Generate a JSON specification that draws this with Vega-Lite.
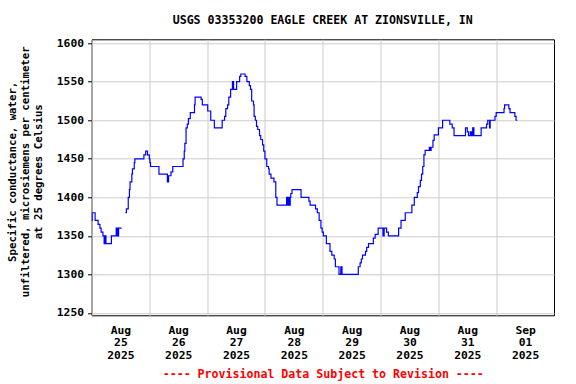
{
  "$schema": "https://vega.github.io/schema/vega-lite/v6.json",
  "width": 462.5,
  "height": 276,
  "autosize": {"type": "none"},
  "padding": {"left": 91.5, "top": 39.3, "right": 22, "bottom": 68.7},
  "background": "#ffffff",
  "title": {
    "text": "USGS 03353200 EAGLE CREEK AT ZIONSVILLE, IN",
    "font": "DejaVu Sans Mono",
    "fontSize": 11.6,
    "fontWeight": "bold",
    "color": "#000000",
    "anchor": "middle",
    "offset": 11
  },
  "config": {
    "view": {"stroke": "#000000", "strokeWidth": 1},
    "axis": {
      "labelFont": "DejaVu Sans Mono",
      "labelFontWeight": "bold",
      "labelFontSize": 11.3,
      "labelColor": "#000000",
      "titleFont": "DejaVu Sans Mono",
      "titleFontWeight": "bold",
      "gridColor": "#cccccc",
      "gridWidth": 1,
      "gridOpacity": 1,
      "domain": false
    }
  },
  "data": {
    "values": [
      {"t": "2025-08-25T00:00Z", "v": 1370},
      {"t": "2025-08-25T00:15Z", "v": 1380},
      {"t": "2025-08-25T01:30Z", "v": 1370},
      {"t": "2025-08-25T02:45Z", "v": 1365},
      {"t": "2025-08-25T03:30Z", "v": 1360},
      {"t": "2025-08-25T04:00Z", "v": 1355},
      {"t": "2025-08-25T04:45Z", "v": 1350},
      {"t": "2025-08-25T05:15Z", "v": 1340},
      {"t": "2025-08-25T05:45Z", "v": 1350},
      {"t": "2025-08-25T06:00Z", "v": 1340},
      {"t": "2025-08-25T08:15Z", "v": 1350},
      {"t": "2025-08-25T10:15Z", "v": 1360},
      {"t": "2025-08-25T10:45Z", "v": 1350},
      {"t": "2025-08-25T11:15Z", "v": 1360},
      {"t": "2025-08-25T12:30Z", "v": 1360},
      {"t": "2025-08-25T13:00Z", "v": null},
      {"t": "2025-08-25T14:00Z", "v": 1380},
      {"t": "2025-08-25T14:30Z", "v": 1385},
      {"t": "2025-08-25T15:15Z", "v": 1400},
      {"t": "2025-08-25T15:45Z", "v": 1410},
      {"t": "2025-08-25T16:00Z", "v": 1420},
      {"t": "2025-08-25T16:45Z", "v": 1430},
      {"t": "2025-08-25T17:00Z", "v": 1437},
      {"t": "2025-08-25T17:45Z", "v": 1445},
      {"t": "2025-08-25T18:00Z", "v": 1450},
      {"t": "2025-08-25T21:45Z", "v": 1455},
      {"t": "2025-08-25T22:30Z", "v": 1460},
      {"t": "2025-08-25T23:15Z", "v": 1455},
      {"t": "2025-08-26T00:00Z", "v": 1450},
      {"t": "2025-08-26T00:15Z", "v": 1445},
      {"t": "2025-08-26T00:30Z", "v": 1440},
      {"t": "2025-08-26T04:00Z", "v": 1430},
      {"t": "2025-08-26T07:30Z", "v": 1420},
      {"t": "2025-08-26T08:00Z", "v": 1428},
      {"t": "2025-08-26T09:00Z", "v": 1433},
      {"t": "2025-08-26T09:45Z", "v": 1440},
      {"t": "2025-08-26T14:00Z", "v": 1450},
      {"t": "2025-08-26T14:30Z", "v": 1460},
      {"t": "2025-08-26T14:45Z", "v": 1470},
      {"t": "2025-08-26T15:15Z", "v": 1490},
      {"t": "2025-08-26T15:45Z", "v": 1495},
      {"t": "2025-08-26T16:15Z", "v": 1502},
      {"t": "2025-08-26T17:00Z", "v": 1510},
      {"t": "2025-08-26T18:45Z", "v": 1520},
      {"t": "2025-08-26T19:00Z", "v": 1530},
      {"t": "2025-08-26T21:30Z", "v": 1527},
      {"t": "2025-08-26T22:00Z", "v": 1520},
      {"t": "2025-08-27T00:15Z", "v": 1512},
      {"t": "2025-08-27T01:30Z", "v": 1500},
      {"t": "2025-08-27T03:00Z", "v": 1490},
      {"t": "2025-08-27T06:15Z", "v": 1500},
      {"t": "2025-08-27T07:15Z", "v": 1505},
      {"t": "2025-08-27T07:45Z", "v": 1515},
      {"t": "2025-08-27T08:30Z", "v": 1520},
      {"t": "2025-08-27T09:00Z", "v": 1530},
      {"t": "2025-08-27T09:45Z", "v": 1540},
      {"t": "2025-08-27T10:30Z", "v": 1550},
      {"t": "2025-08-27T11:00Z", "v": 1540},
      {"t": "2025-08-27T12:15Z", "v": 1550},
      {"t": "2025-08-27T13:30Z", "v": 1557},
      {"t": "2025-08-27T14:00Z", "v": 1560},
      {"t": "2025-08-27T15:45Z", "v": 1557},
      {"t": "2025-08-27T16:30Z", "v": 1550},
      {"t": "2025-08-27T17:30Z", "v": 1545},
      {"t": "2025-08-27T18:00Z", "v": 1540},
      {"t": "2025-08-27T18:30Z", "v": 1525},
      {"t": "2025-08-27T19:15Z", "v": 1520},
      {"t": "2025-08-27T19:30Z", "v": 1505},
      {"t": "2025-08-27T20:00Z", "v": 1500},
      {"t": "2025-08-27T20:30Z", "v": 1492},
      {"t": "2025-08-27T21:00Z", "v": 1488},
      {"t": "2025-08-27T21:45Z", "v": 1480},
      {"t": "2025-08-27T22:15Z", "v": 1475},
      {"t": "2025-08-27T23:00Z", "v": 1468},
      {"t": "2025-08-27T23:30Z", "v": 1460},
      {"t": "2025-08-28T00:00Z", "v": 1450},
      {"t": "2025-08-28T00:45Z", "v": 1440},
      {"t": "2025-08-28T01:30Z", "v": 1437},
      {"t": "2025-08-28T01:45Z", "v": 1430},
      {"t": "2025-08-28T02:30Z", "v": 1425},
      {"t": "2025-08-28T03:45Z", "v": 1420},
      {"t": "2025-08-28T04:30Z", "v": 1400},
      {"t": "2025-08-28T05:00Z", "v": 1390},
      {"t": "2025-08-28T09:00Z", "v": 1400},
      {"t": "2025-08-28T09:15Z", "v": 1390},
      {"t": "2025-08-28T09:45Z", "v": 1400},
      {"t": "2025-08-28T10:00Z", "v": 1390},
      {"t": "2025-08-28T10:30Z", "v": 1400},
      {"t": "2025-08-28T10:45Z", "v": 1405},
      {"t": "2025-08-28T11:15Z", "v": 1410},
      {"t": "2025-08-28T15:00Z", "v": 1400},
      {"t": "2025-08-28T18:15Z", "v": 1395},
      {"t": "2025-08-28T18:45Z", "v": 1390},
      {"t": "2025-08-28T21:00Z", "v": 1385},
      {"t": "2025-08-28T21:45Z", "v": 1380},
      {"t": "2025-08-28T22:30Z", "v": 1370},
      {"t": "2025-08-28T23:15Z", "v": 1360},
      {"t": "2025-08-28T23:45Z", "v": 1355},
      {"t": "2025-08-29T00:15Z", "v": 1350},
      {"t": "2025-08-29T01:30Z", "v": 1340},
      {"t": "2025-08-29T03:00Z", "v": 1330},
      {"t": "2025-08-29T03:45Z", "v": 1325},
      {"t": "2025-08-29T04:45Z", "v": 1320},
      {"t": "2025-08-29T05:15Z", "v": 1310},
      {"t": "2025-08-29T06:45Z", "v": 1300},
      {"t": "2025-08-29T07:30Z", "v": 1310},
      {"t": "2025-08-29T08:00Z", "v": 1300},
      {"t": "2025-08-29T14:45Z", "v": 1310},
      {"t": "2025-08-29T15:30Z", "v": 1315},
      {"t": "2025-08-29T16:00Z", "v": 1320},
      {"t": "2025-08-29T16:30Z", "v": 1325},
      {"t": "2025-08-29T17:45Z", "v": 1330},
      {"t": "2025-08-29T18:15Z", "v": 1335},
      {"t": "2025-08-29T19:00Z", "v": 1340},
      {"t": "2025-08-29T21:00Z", "v": 1347},
      {"t": "2025-08-29T21:45Z", "v": 1352},
      {"t": "2025-08-29T23:00Z", "v": 1360},
      {"t": "2025-08-30T01:00Z", "v": 1350},
      {"t": "2025-08-30T01:30Z", "v": 1360},
      {"t": "2025-08-30T02:30Z", "v": 1355},
      {"t": "2025-08-30T03:15Z", "v": 1350},
      {"t": "2025-08-30T07:30Z", "v": 1360},
      {"t": "2025-08-30T08:30Z", "v": 1370},
      {"t": "2025-08-30T10:15Z", "v": 1380},
      {"t": "2025-08-30T13:00Z", "v": 1390},
      {"t": "2025-08-30T14:00Z", "v": 1400},
      {"t": "2025-08-30T15:15Z", "v": 1406},
      {"t": "2025-08-30T15:45Z", "v": 1414},
      {"t": "2025-08-30T16:30Z", "v": 1422},
      {"t": "2025-08-30T17:00Z", "v": 1430},
      {"t": "2025-08-30T17:30Z", "v": 1440},
      {"t": "2025-08-30T18:00Z", "v": 1455},
      {"t": "2025-08-30T18:30Z", "v": 1461},
      {"t": "2025-08-30T20:15Z", "v": 1465},
      {"t": "2025-08-30T20:45Z", "v": 1461},
      {"t": "2025-08-30T21:00Z", "v": 1465},
      {"t": "2025-08-30T21:45Z", "v": 1474},
      {"t": "2025-08-30T22:15Z", "v": 1481},
      {"t": "2025-08-31T00:00Z", "v": 1490},
      {"t": "2025-08-31T01:45Z", "v": 1500},
      {"t": "2025-08-31T04:45Z", "v": 1495},
      {"t": "2025-08-31T05:45Z", "v": 1490},
      {"t": "2025-08-31T06:30Z", "v": 1480},
      {"t": "2025-08-31T11:15Z", "v": 1490},
      {"t": "2025-08-31T12:00Z", "v": 1485},
      {"t": "2025-08-31T12:30Z", "v": 1480},
      {"t": "2025-08-31T13:15Z", "v": 1485},
      {"t": "2025-08-31T13:45Z", "v": 1480},
      {"t": "2025-08-31T14:15Z", "v": 1490},
      {"t": "2025-08-31T14:45Z", "v": 1480},
      {"t": "2025-08-31T17:45Z", "v": 1490},
      {"t": "2025-08-31T20:00Z", "v": 1495},
      {"t": "2025-08-31T20:30Z", "v": 1500},
      {"t": "2025-08-31T21:15Z", "v": 1490},
      {"t": "2025-08-31T21:30Z", "v": 1500},
      {"t": "2025-08-31T23:30Z", "v": 1505},
      {"t": "2025-09-01T00:00Z", "v": 1510},
      {"t": "2025-09-01T03:15Z", "v": 1515},
      {"t": "2025-09-01T03:30Z", "v": 1520},
      {"t": "2025-09-01T05:15Z", "v": 1515},
      {"t": "2025-09-01T05:45Z", "v": 1510},
      {"t": "2025-09-01T07:45Z", "v": 1505},
      {"t": "2025-09-01T08:15Z", "v": 1500},
      {"t": "2025-09-01T08:45Z", "v": 1500}
    ]
  },
  "mark": {"type": "line", "interpolate": "step-after", "color": "#0000ff", "strokeWidth": 1.2, "clip": true},
  "encoding": {
    "x": {
      "field": "t",
      "type": "temporal",
      "scale": {
        "type": "utc",
        "domain": [
          {"year": 2025, "month": 8, "date": 25, "utc": true},
          {"year": 2025, "month": 9, "date": 2, "utc": true}
        ]
      },
      "axis": {
        "values": [
          {"year": 2025, "month": 8, "date": 25, "utc": true},
          {"year": 2025, "month": 8, "date": 26, "utc": true},
          {"year": 2025, "month": 8, "date": 27, "utc": true},
          {"year": 2025, "month": 8, "date": 28, "utc": true},
          {"year": 2025, "month": 8, "date": 29, "utc": true},
          {"year": 2025, "month": 8, "date": 30, "utc": true},
          {"year": 2025, "month": 8, "date": 31, "utc": true},
          {"year": 2025, "month": 9, "date": 1, "utc": true}
        ],
        "labelExpr": "[utcFormat(datum.value, '%b'), utcFormat(datum.value, '%d'), utcFormat(datum.value, '%Y')]",
        "labelOffset": 28.9,
        "labelLineHeight": 12.5,
        "labelPadding": 9,
        "labelAlign": "center",
        "labelBaseline": "top",
        "labelFlush": false,
        "labelOverlap": false,
        "ticks": false,
        "grid": true,
        "title": "---- Provisional Data Subject to Revision ----",
        "titleColor": "#ff0000",
        "titleFontSize": 11.6,
        "titlePadding": 8
      }
    },
    "y": {
      "field": "v",
      "type": "quantitative",
      "scale": {"domain": [1247, 1605], "nice": false, "zero": false},
      "axis": {
        "values": [1250, 1300, 1350, 1400, 1450, 1500, 1550, 1600],
        "format": "d",
        "tickSize": 4,
        "tickColor": "#000000",
        "labelPadding": 4,
        "grid": true,
        "title": ["Specific conductance, water,", "unfiltered, microsiemens per centimeter", "at 25 degrees Celsius"],
        "titleFontSize": 10.7,
        "titleLineHeight": 13,
        "titleColor": "#000000",
        "titlePadding": 13,
        "titleY": 132
      }
    }
  }
}
